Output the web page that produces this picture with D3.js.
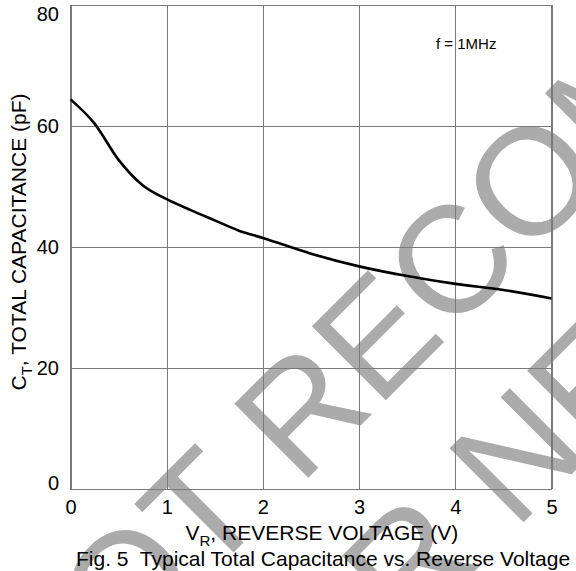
<!DOCTYPE html>
<html>
<head>
<meta charset="utf-8">
<script src="https://cdn.jsdelivr.net/npm/d3@7"></script>
<style>
  html, body { margin: 0; padding: 0; background: #fff; }
  svg { display: block; font-family: "Liberation Sans", Arial, sans-serif; }
  .tick line { stroke: #7a7a7a; stroke-width: 1; shape-rendering: crispEdges; }
  .tick text { fill: #000; font-size: 20px; }
</style>
</head>
<body>
<svg id="chart" width="576" height="571"></svg>
<script>
// Reverse voltage (V) and typical total capacitance (pF), f = 1 MHz
const reverseVoltage = [0, 0.25, 0.5, 0.75, 1, 1.25, 1.5, 1.75, 2, 2.5, 3, 3.5, 4, 4.5, 5];
const capacitance    = [64.4, 60.4, 54.4, 50.2, 47.9, 46.1, 44.4, 42.7, 41.5, 38.9, 36.8, 35.2, 33.9, 32.9, 31.5];

const xTicks = [0, 1, 2, 3, 4, 5];
const yTicks = [0, 20, 40, 60, 80];

const watermarkLines = ["NOT RECOMMENDED", "FOR NEW DESIGN"];

const W = 576, H = 571;
const plot = { left: 70.5, right: 551.5, top: 5, bottom: 489 };

const svg = d3.select("#chart");

const x = d3.scaleLinear().domain([0, 5]).range([plot.left, plot.right]);
const y = d3.scaleLinear().domain([0, 80]).range([plot.bottom, plot.top]);

// Diagonal grey watermark behind the chart
const wm = svg.append("g")
  .attr("fill", "#ababab")
  .style("font-family", "'Liberation Sans', Arial, sans-serif")
  .style("font-size", "152px");
wm.append("text")
  .attr("transform", "translate(44.6,741.4) rotate(-45)")
  .text(watermarkLines[0]);
wm.append("text")
  .attr("transform", "translate(257.9,787.8) rotate(-45)")
  .text(watermarkLines[1]);

// Grid lines with tick labels
const gx = svg.append("g")
  .attr("transform", `translate(0,${plot.bottom})`)
  .call(d3.axisBottom(x).tickValues(xTicks).tickFormat(d3.format("d"))
    .tickSize(-(plot.bottom - plot.top)).tickPadding(11));
gx.select(".domain").remove();

const gy = svg.append("g")
  .attr("transform", `translate(${plot.left},0)`)
  .call(d3.axisLeft(y).tickValues(yTicks).tickFormat(d3.format("d"))
    .tickSize(-(plot.right - plot.left)).tickPadding(11.5));
gy.select(".domain").remove();
// keep the end labels inside the frame height
gy.selectAll(".tick text")
  .attr("dy", d => d === 80 ? "0.77em" : d === 0 ? "0.02em" : "0.32em");

// Plot frame
svg.append("rect")
  .attr("x", plot.left).attr("y", plot.top)
  .attr("width", plot.right - plot.left).attr("height", plot.bottom - plot.top)
  .attr("fill", "none").attr("stroke", "#7a7a7a").attr("stroke-width", 1)
  .attr("shape-rendering", "crispEdges");

// Capacitance curve
const line = d3.line()
  .x((d, i) => x(reverseVoltage[i]))
  .y(d => y(d))
  .curve(d3.curveMonotoneX);
svg.append("path")
  .datum(capacitance)
  .attr("d", line)
  .attr("fill", "none")
  .attr("stroke", "#000")
  .attr("stroke-width", 2.6)
  .attr("stroke-linejoin", "round");

// Test condition note
svg.append("text")
  .attr("x", 436).attr("y", 49)
  .style("font-size", "15px")
  .text("f = 1MHz");

// X axis title
const xt = svg.append("text")
  .attr("x", 185.5).attr("y", 540)
  .style("font-size", "21px");
xt.append("tspan").text("V");
xt.append("tspan").attr("dy", 6).style("font-size", "15px").text("R");
xt.append("tspan").attr("dy", -6).text(", REVERSE VOLTAGE (V)");

// Y axis title
const yt = svg.append("text")
  .attr("transform", "translate(25.5,242) rotate(-90)")
  .attr("text-anchor", "middle")
  .style("font-size", "21px");
yt.append("tspan").text("C");
yt.append("tspan").attr("dy", 6).style("font-size", "15px").text("T");
yt.append("tspan").attr("dy", -6).text(", TOTAL CAPACITANCE (pF)");

// Figure caption
svg.append("text")
  .attr("x", 76).attr("y", 566)
  .attr("xml:space", "preserve")
  .style("white-space", "pre")
  .style("font-size", "21px")
  .text("Fig. 5  Typical Total Capacitance vs. Reverse Voltage");
</script>
</body>
</html>
